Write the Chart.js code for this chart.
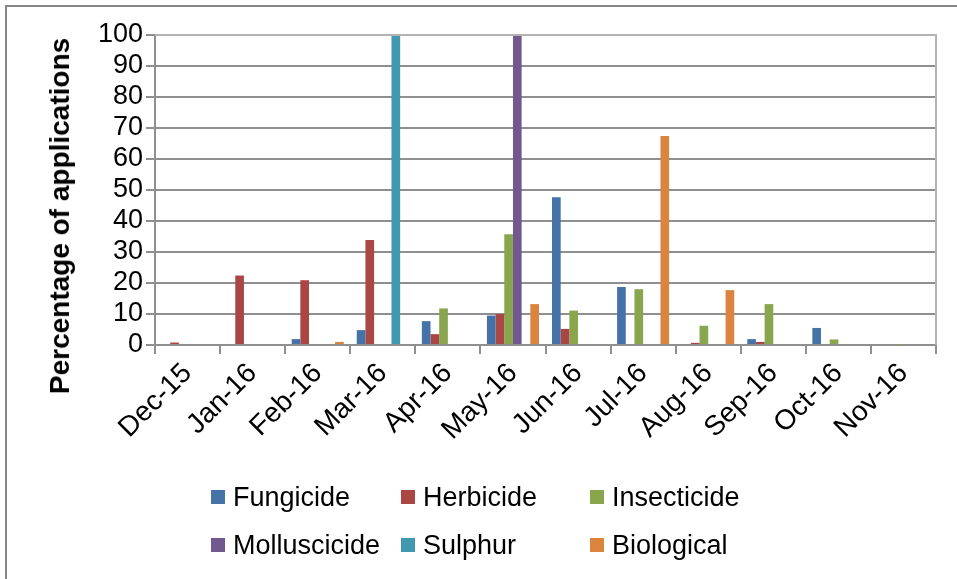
<!DOCTYPE html>
<html>
<head>
<meta charset="utf-8">
<script src="https://cdn.jsdelivr.net/npm/chart.js@4"></script>
<style>
	body { margin: 0; background: #fff; }
	#wrap { position: relative; width: 957px; height: 579px; }
	#frame { position: absolute; left: 5px; top: 5px; right: 0; bottom: 0; border-left: 2px solid #878787; border-top: 2px solid #878787; }
	#chart { position: absolute; left: 0; top: 0; }
	#legend { position: absolute; left: 0; top: 0; width: 957px; font-family: Arial, "Liberation Sans", sans-serif; font-size: 27px; color: #000; }
	.item { position: absolute; white-space: nowrap; line-height: 30px; }
	.item span.box { display: inline-block; width: 14px; height: 14px; margin-right: 8px; vertical-align: 2px; }
	#ytitle { position: absolute; left: 60px; top: 216px; transform: translate(-50%, -50%) rotate(-90deg); white-space: nowrap;
		font-family: Arial, "Liberation Sans", sans-serif; font-weight: bold; font-size: 28px; color: #000; }
</style>
</head>
<body>
<div id="wrap">
	<div id="frame"></div>
	<canvas id="chart" width="957" height="579"></canvas>
	<div id="ytitle">Percentage of applications</div>
	<div id="legend"></div>
</div>
<script>
let months = ['Dec-15', 'Jan-16', 'Feb-16', 'Mar-16', 'Apr-16', 'May-16', 'Jun-16', 'Jul-16', 'Aug-16', 'Sep-16', 'Oct-16', 'Nov-16'];
let fungicide = [0, 0, 1.9, 4.8, 7.7, 9.5, 47.7, 18.7, 0.3, 1.9, 5.5, 0];
let herbicide = [0.8, 22.4, 20.9, 33.9, 3.5, 10, 5.2, 0, 0.7, 1.0, 0, 0];
let insecticide = [0, 0, 0, 0, 11.8, 35.7, 11.1, 18.0, 6.2, 13.2, 1.8, 0.2];
let molluscicide = [0, 0, 0, 0, 0, 100, 0, 0, 0, 0, 0, 0];
let sulphur = [0, 0, 0, 100, 0, 0, 0, 0, 0, 0, 0, 0];
let biological = [0, 0, 1.0, 0, 0, 13.2, 0, 67.4, 17.7, 0, 0, 0];
let yTicks = [0, 10, 20, 30, 40, 50, 60, 70, 80, 90, 100];

let series = [
	{ label: 'Fungicide', data: fungicide, color: '#4572A7' },
	{ label: 'Herbicide', data: herbicide, color: '#AA4643' },
	{ label: 'Insecticide', data: insecticide, color: '#89A54E' },
	{ label: 'Molluscicide', data: molluscicide, color: '#71588F' },
	{ label: 'Sulphur', data: sulphur, color: '#4198AF' },
	{ label: 'Biological', data: biological, color: '#DB843D' }
];

const font = 'Arial, "Liberation Sans", sans-serif';

// plot frame (top + right edge, like the excel chart)
const frame = {
	id: 'frame',
	afterDraw(chart) {
		const a = chart.chartArea, ctx = chart.ctx;
		ctx.save();
		ctx.strokeStyle = '#b3b3b3';
		ctx.lineWidth = 2;
		ctx.beginPath();
		ctx.moveTo(a.left, a.top);
		ctx.lineTo(a.right, a.top);
		ctx.lineTo(a.right, a.bottom);
		ctx.stroke();
		ctx.restore();
	}
};

new Chart(document.getElementById('chart'), {
	type: 'bar',
	data: {
		labels: months,
		datasets: series.map(s => ({
			label: s.label,
			data: s.data,
			backgroundColor: s.color,
			borderWidth: 0,
			categoryPercentage: 0.8,
			barPercentage: 1
		}))
	},
	options: {
		responsive: false,
		animation: false,
		layout: { padding: { top: 35, right: 21, left: 0, bottom: 0 } },
		plugins: { legend: { display: false }, tooltip: { enabled: false } },
		scales: {
			x: {
				afterFit: s => { s.height = 234; },
				grid: { drawOnChartArea: false, color: '#8f8f8f', lineWidth: 2, tickLength: 9, offset: true },
				border: { color: '#8f8f8f', width: 2 },
				ticks: { color: '#000', font: { family: font, size: 28 }, minRotation: 45, maxRotation: 45, padding: 3, autoSkip: false }
			},
			y: {
				min: 0,
				max: 100,
				afterFit: s => { s.width = 155; },
				afterBuildTicks: s => { s.ticks = yTicks.map(v => ({ value: v })); },
				grid: { color: '#8f8f8f', lineWidth: 2, tickLength: 9 },
				border: { color: '#8f8f8f', width: 2 },
				ticks: { color: '#000', font: { family: font, size: 27 }, padding: 3, autoSkip: false, stepSize: 10 }
			}
		}
	},
	plugins: [frame]
});

// legend laid out in 3 columns like the reference
const legendPos = [[211, 497], [401, 497], [590, 497], [211, 545], [401, 545], [590, 545]];
const legend = document.getElementById('legend');
series.forEach((s, i) => {
	const el = document.createElement('div');
	el.className = 'item';
	el.style.left = legendPos[i][0] + 'px';
	el.style.top = (legendPos[i][1] - 15) + 'px';
	el.innerHTML = '<span class="box" style="background:' + s.color + '"></span>' + s.label;
	legend.appendChild(el);
});
</script>
</body>
</html>
